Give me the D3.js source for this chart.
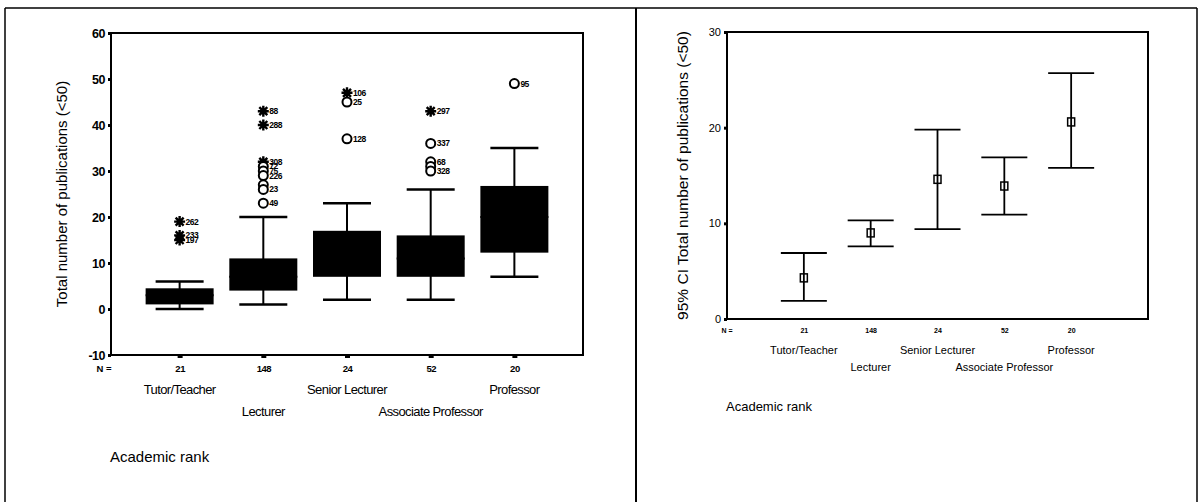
<!DOCTYPE html>
<html>
<head>
<meta charset="utf-8">
<script src="https://cdn.jsdelivr.net/npm/d3@7"></script>
<style>
  html, body { margin: 0; padding: 0; background: #fff; }
  svg { display: block; }
  text { fill: #000; }
</style>
</head>
<body>
<svg id="chart" width="1203" height="502"></svg>
<script>
// Academic rank groups and group sizes
const categories = ["Tutor/Teacher", "Lecturer", "Senior Lecturer", "Associate Professor", "Professor"];
const groupN = [21, 148, 24, 52, 20];

// Box plot summary: total number of publications (<50)
const boxQ1 = [1, 4, 7, 7, 12.25];
const boxMedian = [3, 7, 12, 11, 20];
const boxQ3 = [4.5, 11, 17, 16, 26.75];
const whiskerLow = [0, 1, 2, 2, 7];
const whiskerHigh = [6, 20, 23, 26, 35];

// Outlying cases: group, value, case number, kind ("extreme" = asterisk, "outlier" = circle)
const outlierGroup = ["Tutor/Teacher", "Tutor/Teacher", "Tutor/Teacher",
  "Lecturer", "Lecturer", "Lecturer", "Lecturer", "Lecturer", "Lecturer", "Lecturer", "Lecturer", "Lecturer",
  "Senior Lecturer", "Senior Lecturer", "Senior Lecturer",
  "Associate Professor", "Associate Professor", "Associate Professor", "Associate Professor", "Associate Professor",
  "Professor"];
const outlierValue = [19, 16, 15,
  43, 40, 32, 31, 30, 29, 27, 26, 23,
  47, 45, 37,
  43, 36, 32, 31, 30,
  49];
const outlierCase = ["262", "233", "197",
  "88", "288", "308", "72", "75", "226", "", "23", "49",
  "106", "25", "128",
  "297", "337", "68", "", "328",
  "95"];
const outlierKind = ["extreme", "extreme", "extreme",
  "extreme", "extreme", "extreme", "outlier", "outlier", "outlier", "outlier", "outlier", "outlier",
  "extreme", "outlier", "outlier",
  "extreme", "outlier", "outlier", "outlier", "outlier",
  "outlier"];

// 95% confidence intervals of the mean
const ciMean = [4.3, 9.0, 14.6, 13.9, 20.6];
const ciLow = [1.9, 7.6, 9.4, 10.9, 15.8];
const ciHigh = [6.9, 10.3, 19.8, 16.9, 25.7];

// Axis ticks
const boxTicks = [-10, 0, 10, 20, 30, 40, 50, 60];
const ciTicks = [0, 10, 20, 30];

const svg = d3.select("#chart");
const sans = "'Liberation Sans', Arial, sans-serif";
const plainInt = d => String(d);   // ASCII hyphen for negatives

// Page frame: top rule, outer sides and the divider between the two charts
const frame = svg.append("g").attr("stroke", "#000").attr("fill", "none");
frame.append("line").attr("x1", 5).attr("x2", 1197).attr("y1", 8).attr("y2", 8).attr("stroke-width", 1.5);
frame.append("line").attr("x1", 5).attr("x2", 5).attr("y1", 8).attr("y2", 502).attr("stroke-width", 1.5);
frame.append("line").attr("x1", 636).attr("x2", 636).attr("y1", 8).attr("y2", 502).attr("stroke-width", 2);
frame.append("line").attr("x1", 1197).attr("x2", 1197).attr("y1", 8).attr("y2", 502).attr("stroke-width", 1.5);

// ---------- Left: box plot ----------
const L = { left: 111, right: 583, top: 33, bottom: 355 };
const xL = d3.scalePoint().domain(categories).range([L.left, L.right]).padding(0.82);
const yL = d3.scaleLinear().domain([-10, 60]).range([L.bottom, L.top]);

const gL = svg.append("g");

// y axis ticks and labels
gL.append("g")
  .attr("transform", `translate(${L.left},0)`)
  .call(d3.axisLeft(yL).tickValues(boxTicks).tickSize(3).tickPadding(3).tickFormat(plainInt))
  .call(g => g.select(".domain").remove())
  .call(g => g.selectAll(".tick line").attr("stroke-width", 3))
  .call(g => g.selectAll(".tick text").attr("font-family", sans).attr("font-size", 12.5)
    .attr("font-weight", "bold").attr("letter-spacing", -0.5));

// x axis tick marks with group sizes
gL.append("g")
  .attr("transform", `translate(0,${L.bottom})`)
  .call(d3.axisBottom(xL).tickSize(3).tickPadding(7).tickFormat((d, i) => groupN[i]))
  .call(g => g.select(".domain").remove())
  .call(g => g.selectAll(".tick line").attr("stroke-width", 5))
  .call(g => g.selectAll(".tick text").attr("font-family", sans).attr("font-size", 9.5)
    .attr("font-weight", "bold").attr("letter-spacing", -0.5));

gL.append("text").attr("x", 104).attr("y", 372).attr("text-anchor", "middle")
  .attr("font-family", sans).attr("font-size", 9.5).attr("font-weight", "bold").text("N =");

// plot area border
gL.append("rect")
  .attr("x", L.left).attr("y", L.top).attr("width", L.right - L.left).attr("height", L.bottom - L.top)
  .attr("fill", "none").attr("stroke", "#000").attr("stroke-width", 2);

// boxes
const boxW = 68, capW = 48;
const boxes = gL.append("g").selectAll("g").data(categories).join("g");
boxes.append("line")
  .attr("x1", d => xL(d)).attr("x2", d => xL(d))
  .attr("y1", (d, i) => yL(whiskerHigh[i])).attr("y2", (d, i) => yL(whiskerLow[i]))
  .attr("stroke", "#000").attr("stroke-width", 2);
boxes.append("line")
  .attr("x1", d => xL(d) - capW / 2).attr("x2", d => xL(d) + capW / 2)
  .attr("y1", (d, i) => yL(whiskerHigh[i])).attr("y2", (d, i) => yL(whiskerHigh[i]))
  .attr("stroke", "#000").attr("stroke-width", 2.5);
boxes.append("line")
  .attr("x1", d => xL(d) - capW / 2).attr("x2", d => xL(d) + capW / 2)
  .attr("y1", (d, i) => yL(whiskerLow[i])).attr("y2", (d, i) => yL(whiskerLow[i]))
  .attr("stroke", "#000").attr("stroke-width", 2.5);
boxes.append("rect")
  .attr("x", d => xL(d) - boxW / 2).attr("width", boxW)
  .attr("y", (d, i) => yL(boxQ3[i])).attr("height", (d, i) => yL(boxQ1[i]) - yL(boxQ3[i]))
  .attr("fill", "#000");
// median line (black on the solid box)
boxes.append("line")
  .attr("x1", d => xL(d) - boxW / 2).attr("x2", d => xL(d) + boxW / 2)
  .attr("y1", (d, i) => yL(boxMedian[i])).attr("y2", (d, i) => yL(boxMedian[i]))
  .attr("stroke", "#000").attr("stroke-width", 2);

// outliers and extremes
const outliers = outlierValue.map((v, i) => ({ g: outlierGroup[i], v, c: outlierCase[i], k: outlierKind[i] }));
const asterisk = "M-5.5,0L5.5,0M0,-5.5L0,5.5M-4,-4L4,4M-4,4L4,-4";
const og = gL.append("g").selectAll("g").data(outliers).join("g")
  .attr("transform", d => `translate(${xL(d.g)},${yL(d.v)})`);
og.filter(d => d.k === "outlier").append("circle")
  .attr("r", 4.5).attr("fill", "#fff").attr("stroke", "#000").attr("stroke-width", 2);
og.filter(d => d.k === "extreme").append("path")
  .attr("d", asterisk).attr("fill", "none").attr("stroke", "#000").attr("stroke-width", 2.4);
og.append("text")
  .attr("x", 6).attr("y", 3)
  .attr("font-family", sans).attr("font-size", 8.5).attr("font-weight", "bold").attr("letter-spacing", -0.5)
  .text(d => d.c);

// axis titles and category labels
gL.append("text")
  .attr("transform", `translate(67,${(L.top + L.bottom) / 2}) rotate(-90)`)
  .attr("text-anchor", "middle").attr("font-family", sans).attr("font-size", 15)
  .text("Total number of publications (<50)");
gL.append("g").selectAll("text").data(categories).join("text")
  .attr("x", d => xL(d)).attr("y", (d, i) => i % 2 === 0 ? 394 : 416)
  .attr("text-anchor", "middle").attr("font-family", sans).attr("font-size", 13).attr("letter-spacing", -0.6)
  .text(d => d);
gL.append("text").attr("x", 110).attr("y", 462)
  .attr("font-family", sans).attr("font-size", 15).text("Academic rank");

// ---------- Right: 95% CI error bars ----------
const R = { left: 727, right: 1148, top: 32, bottom: 319 };
const xR = d3.scalePoint().domain(categories).range([R.left, R.right]).padding(1.15);
const yR = d3.scaleLinear().domain([0, 30]).range([R.bottom, R.top]);

const gR = svg.append("g");

gR.append("g")
  .attr("transform", `translate(${R.left},0)`)
  .call(d3.axisLeft(yR).tickValues(ciTicks).tickSize(3).tickPadding(3).tickFormat(plainInt))
  .call(g => g.select(".domain").remove())
  .call(g => g.selectAll(".tick line").attr("stroke-width", 3))
  .call(g => g.selectAll(".tick text").attr("font-family", sans).attr("font-size", 11));

gR.append("g")
  .attr("transform", `translate(0,${R.bottom})`)
  .call(d3.axisBottom(xR).tickSize(0).tickPadding(9).tickFormat((d, i) => groupN[i]))
  .call(g => g.select(".domain").remove())
  .call(g => g.selectAll(".tick text").attr("font-family", sans).attr("font-size", 7).attr("font-weight", "bold"));

gR.append("text").attr("x", 727).attr("y", 333).attr("text-anchor", "middle")
  .attr("font-family", sans).attr("font-size", 7).attr("font-weight", "bold").text("N =");

gR.append("rect")
  .attr("x", R.left).attr("y", R.top).attr("width", R.right - R.left).attr("height", R.bottom - R.top)
  .attr("fill", "none").attr("stroke", "#000").attr("stroke-width", 2);

const ciCap = 46;
const bars = gR.append("g").selectAll("g").data(categories).join("g");
bars.append("line")
  .attr("x1", d => xR(d)).attr("x2", d => xR(d))
  .attr("y1", (d, i) => yR(ciHigh[i])).attr("y2", (d, i) => yR(ciLow[i]))
  .attr("stroke", "#000").attr("stroke-width", 1.8);
bars.append("line")
  .attr("x1", d => xR(d) - ciCap / 2).attr("x2", d => xR(d) + ciCap / 2)
  .attr("y1", (d, i) => yR(ciHigh[i])).attr("y2", (d, i) => yR(ciHigh[i]))
  .attr("stroke", "#000").attr("stroke-width", 1.8);
bars.append("line")
  .attr("x1", d => xR(d) - ciCap / 2).attr("x2", d => xR(d) + ciCap / 2)
  .attr("y1", (d, i) => yR(ciLow[i])).attr("y2", (d, i) => yR(ciLow[i]))
  .attr("stroke", "#000").attr("stroke-width", 1.8);
bars.append("rect")
  .attr("x", d => xR(d) - 3.5).attr("y", (d, i) => yR(ciMean[i]) - 4)
  .attr("width", 7).attr("height", 8)
  .attr("fill", "none").attr("stroke", "#000").attr("stroke-width", 1.5);

gR.append("text")
  .attr("transform", `translate(688,${(R.top + R.bottom) / 2}) rotate(-90)`)
  .attr("text-anchor", "middle").attr("font-family", sans).attr("font-size", 15.5)
  .text("95% CI Total number of publications (<50)");
gR.append("g").selectAll("text").data(categories).join("text")
  .attr("x", d => xR(d)).attr("y", (d, i) => i % 2 === 0 ? 354 : 371)
  .attr("text-anchor", "middle").attr("font-family", sans).attr("font-size", 11)
  .text(d => d);
gR.append("text").attr("x", 726).attr("y", 411)
  .attr("font-family", sans).attr("font-size", 13).text("Academic rank");
</script>
</body>
</html>
